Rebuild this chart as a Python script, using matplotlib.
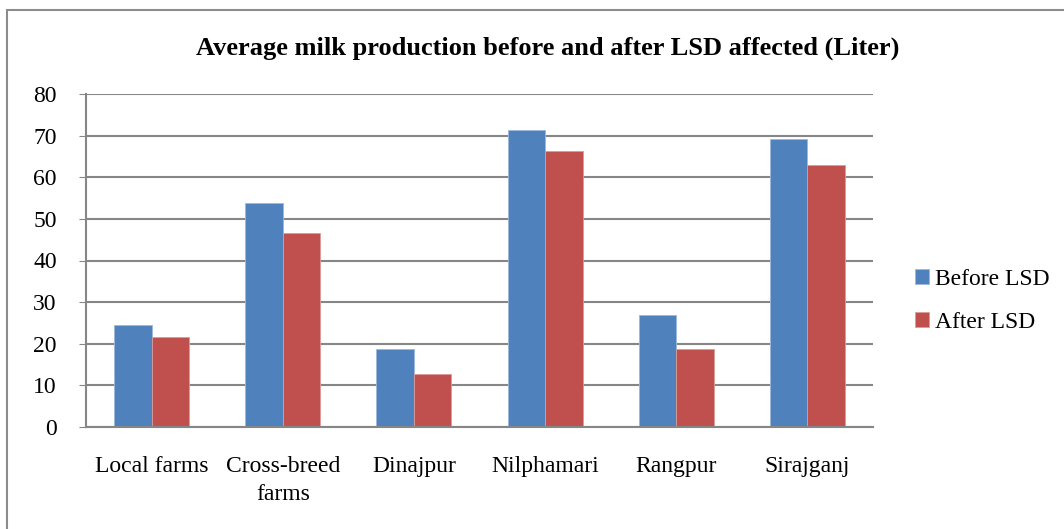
import matplotlib
matplotlib.use("Agg")
import matplotlib.pyplot as plt
import numpy as np
from matplotlib.patches import Rectangle

categories = ["Local farms", "Cross-breed\nfarms", "Dinajpur", "Nilphamari", "Rangpur", "Sirajganj"]
before_lsd = [24.6, 53.8, 18.8, 71.3, 26.8, 69.1]
after_lsd = [21.6, 46.6, 12.8, 66.3, 18.8, 62.9]
y_ticks = [0, 10, 20, 30, 40, 50, 60, 70, 80]

plt.rcParams["font.family"] = ["Liberation Serif", "DejaVu Serif"]

W, H = 1064, 529
fig = plt.figure(figsize=(W / 100, H / 100), dpi=100)
fig.patch.set_facecolor("white")

# outer chart frame
fig.patches.append(Rectangle((7 / W, -0.05), 1.1, (H - 10) / H + 0.05,
                             transform=fig.transFigure, fill=False,
                             edgecolor="#8c8c8c", linewidth=1.5))

ax = fig.add_axes([86 / W, 1 - 427 / H, (873 - 86) / W, (427 - 94) / H])

x = np.arange(len(categories))
bw = 1 / 3.5
ax.bar(x - bw / 2, before_lsd, width=bw, color="#4f81bd", label="Before LSD",
       edgecolor="#9db9dd", linewidth=0.6)
ax.bar(x + bw / 2, after_lsd, width=bw, color="#c0504d", label="After LSD",
       edgecolor="#dc9a98", linewidth=0.6)

ax.set_xlim(-0.5, len(categories) - 0.5)
ax.set_ylim(0, 80)
ax.set_yticks(y_ticks)
ax.set_xticks(x)
ax.set_xticklabels(categories, fontsize=17, linespacing=1.45)
ax.tick_params(axis="y", labelsize=17, length=5, color="#868686", pad=16)
ax.tick_params(axis="x", length=0, pad=21)
ax.yaxis.grid(True, color="#868686", linewidth=1.5)
ax.set_axisbelow(True)
for s in ["top", "right"]:
    ax.spines[s].set_visible(False)
for s in ["left", "bottom"]:
    ax.spines[s].set_color("#868686")
    ax.spines[s].set_linewidth(1.5)

fig.text(548 / W, 1 - 48 / H, "Average milk production before and after LSD affected (Liter)",
         ha="center", va="center", fontsize=19, fontweight="bold")

ax.legend(loc="center left", bbox_to_anchor=(894 / W, 1 - 301 / H),
          bbox_transform=fig.transFigure, frameon=False, fontsize=17,
          handlelength=0.6, handleheight=0.6, handletextpad=0.25,
          labelspacing=0.95)

fig.savefig("out.png", dpi=100)
